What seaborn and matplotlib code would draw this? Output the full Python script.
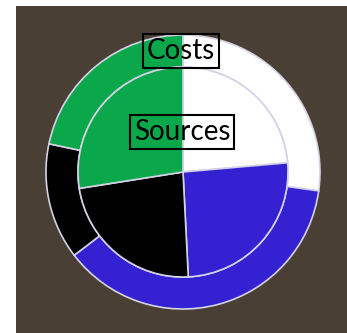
import matplotlib
matplotlib.use("Agg")
import matplotlib.pyplot as plt
import seaborn as sns

sns.set_style("white")

categories = ["White", "Blue", "Black", "Green"]
sources = [23.6, 25.6, 23.3, 27.5]
costs = [27.2, 37.4, 13.7, 21.7]
colors = ["#ffffff", "#3321d2", "#000000", "#0aa84b"]
ring_label = "Costs"
pie_label = "Sources"

W, H = 347, 333
fig = plt.figure(figsize=(W / 100, H / 100), dpi=100, facecolor="white")
ax = fig.add_axes([16 / W, 0, (W - 16) / W, (H - 6) / H])
ax.set_facecolor("#4a3f34")
cx, cy = 183, 172

R_out, R_in = 137, 105
ax.pie(costs, colors=colors, radius=R_out, startangle=90, counterclock=False,
       wedgeprops=dict(width=R_out - R_in, edgecolor="#d4d2e6", linewidth=1.2),
       frame=True)
ax.pie(sources, colors=colors, radius=R_in, startangle=90, counterclock=False,
       wedgeprops=dict(edgecolor="#d4d2e6", linewidth=1.2), frame=True)
ax.set_aspect("equal")
ax.set_xlim(16 - cx, W - cx)
ax.set_ylim(-(H - cy), cy - 6)
ax.set_xticks([])
ax.set_yticks([])
for s in ax.spines.values():
    s.set_visible(False)

box = dict(boxstyle="square,pad=0.13", facecolor="none", edgecolor="black", linewidth=1.5)
ax.text(181 - cx, cy - 51, ring_label, ha="center", va="center", fontsize=20,
        family="Lato", color="black", bbox=box)
ax.text(182 - cx, cy - 132, pie_label, ha="center", va="center", fontsize=20,
        family="Lato", color="black", bbox=box)

fig.savefig("out.png", dpi=100, facecolor="white")
